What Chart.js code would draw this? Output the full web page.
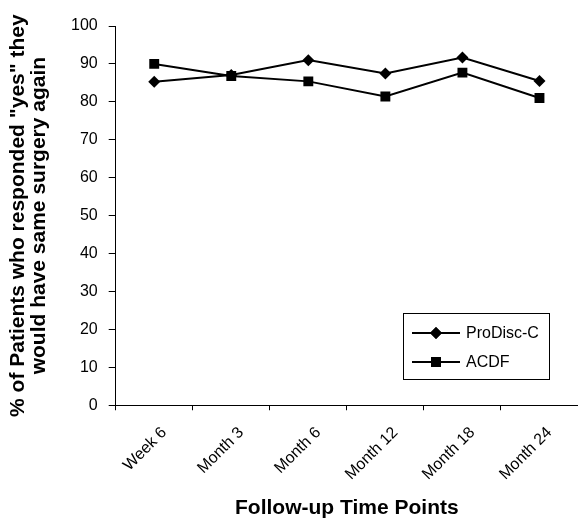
<!DOCTYPE html>
<html>
<head>
<meta charset="utf-8">
<script src="https://cdn.jsdelivr.net/npm/chart.js@4.4.1/dist/chart.umd.min.js"></script>
<style>
  html, body { margin: 0; padding: 0; background: #fff; }
  #wrap { width: 578px; height: 521px; }
</style>
</head>
<body>
<div id="wrap"><canvas id="grafico" width="578" height="521"></canvas></div>
<script>
// Datos
const puntosTiempo = ['Week 6', 'Month 3', 'Month 6', 'Month 12', 'Month 18', 'Month 24'];
const prodiscC = [85.3, 87.1, 91.0, 87.5, 91.7, 85.5];
const acdf = [90.0, 86.8, 85.4, 81.4, 87.7, 81.0];
const ticksY = [0, 10, 20, 30, 40, 50, 60, 70, 80, 90, 100];

const fuente = 'Arial, "Liberation Sans", sans-serif';

// Leyenda dibujada dentro del area del grafico (abajo a la derecha)
const leyendaInterna = {
    id: 'leyendaInterna',
    afterDatasetsDraw(chart) {
        const ctx = chart.ctx;
        const x0 = 403, y0 = 313, w = 146, h = 66;
        ctx.save();
        ctx.fillStyle = '#fff';
        ctx.fillRect(x0, y0, w, h);
        ctx.strokeStyle = '#000';
        ctx.lineWidth = 1;
        ctx.strokeRect(x0 + 0.5, y0 + 0.5, w, h);
        chart.data.datasets.forEach((ds, i) => {
            const y = y0 + 20 + i * 29;
            ctx.strokeStyle = '#000';
            ctx.lineWidth = 2;
            ctx.beginPath();
            ctx.moveTo(x0 + 9, y);
            ctx.lineTo(x0 + 57, y);
            ctx.stroke();
            ctx.fillStyle = '#000';
            Chart.helpers.drawPoint(ctx, {
                pointStyle: ds.pointStyle,
                radius: ds.pointRadius,
                rotation: 0,
                borderWidth: 0
            }, x0 + 33, y);
            ctx.fill();
            ctx.font = '16px ' + fuente;
            ctx.textBaseline = 'middle';
            ctx.fillText(ds.label, x0 + 63, y + 1);
        });
        ctx.restore();
    }
};

const config = {
    type: 'line',
    data: {
        labels: puntosTiempo,
        datasets: [{
            label: 'ProDisc-C',
            data: prodiscC,
            borderColor: '#000',
            backgroundColor: '#000',
            borderWidth: 2,
            pointStyle: 'rectRot',
            pointRadius: 6,
            pointBorderWidth: 0,
            tension: 0
        }, {
            label: 'ACDF',
            data: acdf,
            borderColor: '#000',
            backgroundColor: '#000',
            borderWidth: 2,
            pointStyle: 'rect',
            pointRadius: 7,
            pointBorderWidth: 0,
            tension: 0
        }]
    },
    options: {
        responsive: false,
        animation: false,
        layout: {
            autoPadding: false,
            padding: { top: 26, right: 0, left: 8, bottom: 2 }
        },
        plugins: {
            legend: { display: false },
            tooltip: { enabled: false }
        },
        scales: {
            x: {
                offset: true,
                afterFit(scale) {
                    scale.paddingRight = 0; // el eje llega hasta el borde derecho
                },
                grid: {
                    offset: true,
                    drawOnChartArea: false,
                    drawTicks: true,
                    tickLength: 5,
                    color: '#000'
                },
                border: { color: '#000', width: 1 },
                ticks: {
                    color: '#000',
                    font: { family: fuente, size: 16 },
                    maxRotation: 45,
                    minRotation: 45,
                    autoSkip: false,
                    padding: 13,
                    labelOffset: 10
                },
                title: {
                    display: true,
                    text: 'Follow-up Time Points',
                    color: '#000',
                    font: { family: fuente, size: 21, weight: 'bold', lineHeight: 1.0 },
                    padding: { top: 1, bottom: 0 }
                }
            },
            y: {
                min: 0,
                max: 100,
                afterBuildTicks(axis) {
                    axis.ticks = ticksY.map(v => ({ value: v }));
                },
                grid: {
                    drawOnChartArea: false,
                    drawTicks: true,
                    tickLength: 7,
                    color: '#000'
                },
                border: { color: '#000', width: 1 },
                ticks: {
                    color: '#000',
                    font: { family: fuente, size: 16 },
                    padding: 11
                },
                title: {
                    display: true,
                    text: ['% of Patients who responded "yes" they', 'would have same surgery again'],
                    color: '#000',
                    font: { family: fuente, size: 21, weight: 'bold', lineHeight: 1.0 },
                    padding: { top: 0, bottom: 10 }
                }
            }
        }
    },
    plugins: [leyendaInterna]
};

new Chart(document.getElementById('grafico').getContext('2d'), config);
</script>
</body>
</html>
